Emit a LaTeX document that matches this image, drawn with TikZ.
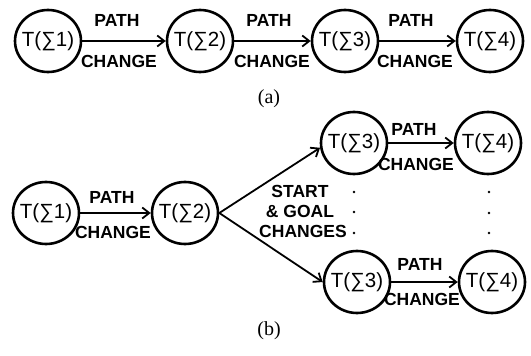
\documentclass[tikz,border=0pt]{standalone}
\usepackage{fontspec}
\setmainfont{Liberation Serif}
\setsansfont{Liberation Sans}
\usetikzlibrary{shapes.geometric,arrows.meta}
\begin{document}
\begin{tikzpicture}[x=1pt,y=-1pt,
  st/.style={ellipse,draw,line width=2.6pt,minimum width=66pt,minimum height=62pt,inner xsep=-14pt,inner ysep=0pt,font=\sffamily\fontsize{20.5}{24}\selectfont},
  lbl/.style={font=\sffamily\bfseries\fontsize{17.5}{20}\selectfont,inner sep=0pt,anchor=base},
  arr/.style={line width=1.8pt,-{Straight Barb[length=7pt,width=11pt]}},
  capt/.style={font=\fontsize{20}{24}\selectfont,inner sep=0pt},
  pt/.style={circle,fill,inner sep=0pt,minimum size=2.6pt}]
\useasboundingbox (0,0) rectangle (531,356);
% (a)
\node[st] (a1) at (48,41) {T(∑1)};
\node[st] (a2) at (200,41) {T(∑2)};
\node[st] (a3) at (345,41) {T(∑3)};
\node[st] (a4) at (490,41) {T(∑4)};
\draw[arr] (a1) -- (a2);
\draw[arr] (a2) -- (a3);
\draw[arr] (a3) -- (a4);
\node[lbl] (pa1) at (117,27) {PATH};
\node[lbl] (ca1) at (119,67) {CHANGE};
\node[lbl] (pa2) at (269,27) {PATH};
\node[lbl] (ca2) at (272,67) {CHANGE};
\node[lbl] (pa3) at (411,27) {PATH};
\node[lbl] (ca3) at (415,67) {CHANGE};
\node[capt] (capa) at (269,99) {(a)};
% (b)
\node[st] (b1) at (46,213) {T(∑1)};
\node[st] (b2) at (185,213) {T(∑2)};
\node[st] (b3) at (354,143) {T(∑3)};
\node[st] (b4) at (488,143) {T(∑4)};
\node[st] (b5) at (357,282) {T(∑3)};
\node[st] (b6) at (492,282) {T(∑4)};
\draw[arr] (b1) -- (b2);
\draw[arr] (b2.east) -- (b3.188);
\draw[arr] (b2.east) -- (b5.west);
\draw[arr] (b3) -- (b4);
\draw[arr] (b5) -- (b6);
\node[lbl] (pb1) at (112,203) {PATH};
\node[lbl] (cb1) at (113,238) {CHANGE};
\node[lbl] (pb2) at (414,135) {PATH};
\node[lbl] (cb2) at (416,170) {CHANGE};
\node[lbl] (pb3) at (420,270) {PATH};
\node[lbl] (cb3) at (422,305) {CHANGE};
\node[lbl] (s1) at (300,197) {START};
\node[lbl] (s2) at (300,217) {\& GOAL};
\node[lbl] (s3) at (303,237) {CHANGES};
\node[pt] (d1) at (354,192) {};
\node[pt] (d2) at (354,212) {};
\node[pt] (d3) at (354,233) {};
\node[pt] (d4) at (489,192) {};
\node[pt] (d5) at (489,213) {};
\node[pt] (d6) at (489,233) {};
\node[capt] (capb) at (269,331) {(b)};
\end{tikzpicture}
\end{document}
